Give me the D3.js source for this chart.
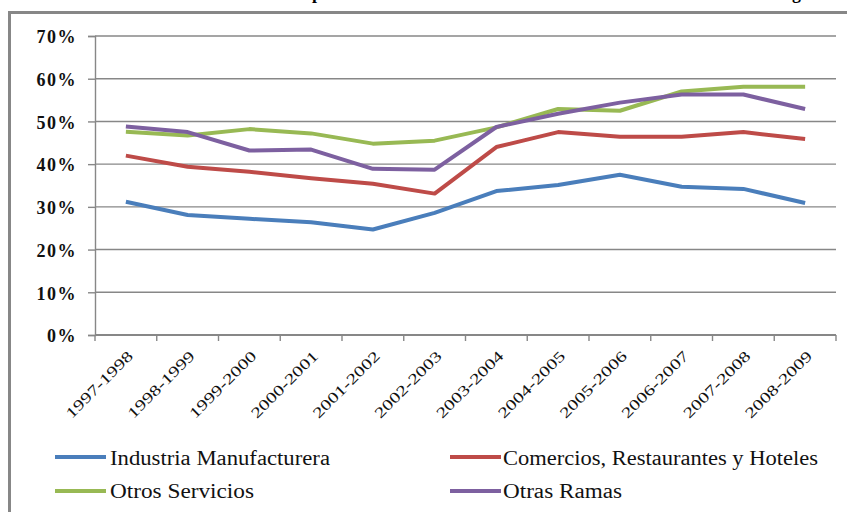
<!DOCTYPE html>
<html>
<head>
<meta charset="utf-8">
<script src="https://cdn.jsdelivr.net/npm/d3@7"></script>
<style>
body { margin: 0; background: #fff; }
svg { display: block; }
svg text { font-family: "Liberation Serif", "DejaVu Serif", "Times New Roman", serif; }
</style>
</head>
<body>
<svg id="chart" width="847" height="512"></svg>
<script>
// Data (percent)
var periods = ["1997-1998", "1998-1999", "1999-2000", "2000-2001", "2001-2002", "2002-2003",
               "2003-2004", "2004-2005", "2005-2006", "2006-2007", "2007-2008", "2008-2009"];
var industria = [31.2, 28.1, 27.2, 26.4, 24.7, 28.6, 33.7, 35.1, 37.5, 34.7, 34.2, 30.9];
var comercios = [42.0, 39.4, 38.2, 36.7, 35.4, 33.1, 44.0, 47.5, 46.4, 46.4, 47.5, 45.9];
var otrosServicios = [47.6, 46.7, 48.2, 47.2, 44.8, 45.5, 48.6, 52.9, 52.5, 57.0, 58.1, 58.1];
var otrasRamas = [48.8, 47.5, 43.2, 43.4, 38.9, 38.7, 48.7, 51.8, 54.4, 56.3, 56.3, 52.9];
var seriesNames = ["Industria Manufacturera", "Comercios, Restaurantes y Hoteles",
                   "Otros Servicios", "Otras Ramas"];
var yTicks = [0, 10, 20, 30, 40, 50, 60, 70];
var titleText = "Evolución de la Tasa de Empleo Informal Urbano en las Ramas de Actividad Económica según Periodo";

var colors = ["#4A7EBB", "#BE4B48", "#98B954", "#7D60A0"];
var series = [industria, comercios, otrosServicios, otrasRamas];
var gridColor = "#878787";

var svg = d3.select("#chart");

// Outer chart border (right and bottom fall outside the picture)
svg.append("rect")
    .attr("x", 9.5).attr("y", 12.5)
    .attr("width", 860).attr("height", 520)
    .attr("fill", "none")
    .attr("stroke", "#878787")
    .attr("stroke-width", 3);

// Title, mostly cut off at the top: only descenders show
var title = svg.append("text")
    .attr("y", -1)
    .attr("font-weight", "bold")
    .attr("font-size", 20)
    .text(titleText);
var tn = title.node();
var pi = titleText.indexOf("Empleo") + 2, gi = titleText.indexOf("según") + 2;
var fs = 20 * (792 - 312) / (tn.getStartPositionOfChar(gi).x - tn.getStartPositionOfChar(pi).x);
if (!(fs > 14 && fs < 26)) fs = 20;
title.attr("font-size", fs);
title.attr("x", 312 - tn.getStartPositionOfChar(pi).x);

// Scales
var x = d3.scaleBand().domain(periods).range([95, 836]);
var y = d3.scaleLinear().domain([0, 70]).range([335, 36]);
var cx = function(i) { return x(periods[i]) + x.bandwidth() / 2; };

// Gridlines
svg.append("g").selectAll("line")
    .data(yTicks.filter(function(d) { return d > 0; }))
    .enter().append("line")
    .attr("x1", 95).attr("x2", 836)
    .attr("y1", function(d) { return y(d); })
    .attr("y2", function(d) { return y(d); })
    .attr("stroke", gridColor)
    .attr("stroke-width", 1.4);

// Y axis
var yAxis = svg.append("g")
    .attr("transform", "translate(95,0)")
    .call(d3.axisLeft(y).tickValues(yTicks).tickSize(7).tickPadding(11)
        .tickFormat(function(d) { return d + "%"; }));
yAxis.attr("font-family", null);
yAxis.select(".domain").attr("stroke", gridColor).attr("stroke-width", 1.4);
yAxis.selectAll(".tick line").attr("stroke", gridColor).attr("stroke-width", 1.4);
yAxis.selectAll(".tick text")
    .attr("dy", "0.38em")
    .attr("font-weight", "bold")
    .attr("font-size", 18)
    .attr("letter-spacing", 1.5)
    .attr("fill", "#111");

// X axis line with ticks on band boundaries
svg.append("line")
    .attr("x1", 95).attr("x2", 836)
    .attr("y1", y(0)).attr("y2", y(0))
    .attr("stroke", gridColor).attr("stroke-width", 2);
var bounds = periods.map(function(p) { return x(p); }).concat([x.range()[1]]);
svg.append("g").selectAll("line")
    .data(bounds)
    .enter().append("line")
    .attr("x1", function(d) { return d; }).attr("x2", function(d) { return d; })
    .attr("y1", y(0)).attr("y2", y(0) + 6)
    .attr("stroke", gridColor).attr("stroke-width", 1.4);

// X labels, rotated
svg.append("g").selectAll("text")
    .data(periods)
    .enter().append("text")
    .attr("transform", function(d, i) { return "translate(" + (cx(i) + 8) + ",357) rotate(-45)"; })
    .attr("text-anchor", "end")
    .attr("textLength", 88)
    .attr("lengthAdjust", "spacingAndGlyphs")
    .attr("font-size", 15)
    .attr("fill", "#111")
    .text(function(d) { return d; });

// Lines
var line = d3.line()
    .x(function(d, i) { return cx(i); })
    .y(function(d) { return y(d); });
svg.append("g").selectAll("path")
    .data(series)
    .enter().append("path")
    .attr("d", line)
    .attr("fill", "none")
    .attr("stroke", function(d, i) { return colors[i]; })
    .attr("stroke-width", 4)
    .attr("stroke-linejoin", "round");

// Legend
var legendPos = [
    { lx: 55, ly: 457, tx: 110, ty: 465, w: 220 },
    { lx: 450, ly: 457, tx: 503, ty: 465, w: 315 },
    { lx: 55, ly: 491, tx: 110, ty: 498, w: 144 },
    { lx: 450, ly: 491, tx: 503, ty: 498, w: 119 }
];
var legend = svg.append("g").selectAll("g")
    .data(seriesNames)
    .enter().append("g");
legend.append("line")
    .attr("x1", function(d, i) { return legendPos[i].lx; })
    .attr("x2", function(d, i) { return legendPos[i].lx + 51; })
    .attr("y1", function(d, i) { return legendPos[i].ly; })
    .attr("y2", function(d, i) { return legendPos[i].ly; })
    .attr("stroke", function(d, i) { return colors[i]; })
    .attr("stroke-width", 4);
legend.append("text")
    .attr("x", function(d, i) { return legendPos[i].tx; })
    .attr("y", function(d, i) { return legendPos[i].ty; })
    .attr("textLength", function(d, i) { return legendPos[i].w; })
    .attr("lengthAdjust", "spacingAndGlyphs")
    .attr("font-size", 20)
    .attr("fill", "#111")
    .text(function(d) { return d; });
</script>
</body>
</html>
